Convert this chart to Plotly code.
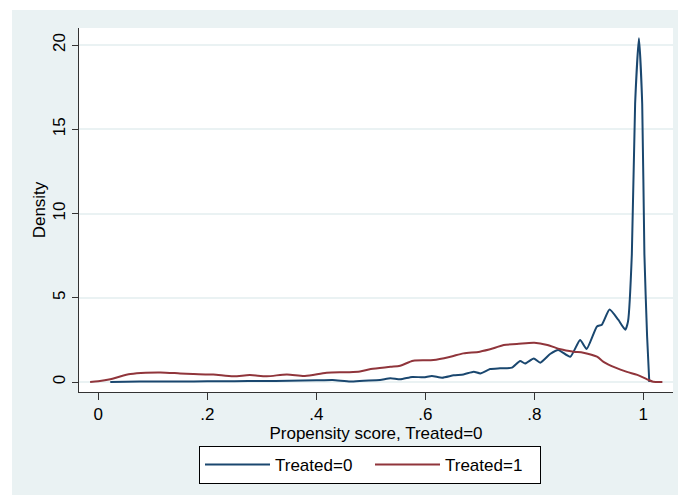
import plotly.graph_objects as go

# Treated=0 density
x0 = [0.022, 0.05, 0.1, 0.15, 0.2, 0.25, 0.3, 0.35, 0.4, 0.43, 0.462, 0.487, 0.517, 0.536, 0.554,
      0.576, 0.597, 0.612, 0.631, 0.652, 0.67, 0.689, 0.701, 0.719, 0.737, 0.759, 0.774, 0.783,
      0.799, 0.811, 0.829, 0.844, 0.866, 0.884, 0.896, 0.915, 0.924, 0.938, 0.954, 0.967, 0.972,
      0.979, 0.985, 0.992, 0.998, 1.002, 1.007, 1.011]
y0 = [0.0, 0.02, 0.03, 0.03, 0.04, 0.05, 0.06, 0.07, 0.1, 0.12, 0.03, 0.08, 0.12, 0.22, 0.16,
      0.3, 0.28, 0.36, 0.26, 0.4, 0.45, 0.61, 0.51, 0.77, 0.81, 0.85, 1.25, 1.1,
      1.4, 1.15, 1.66, 1.9, 1.5, 2.5, 1.96, 3.3, 3.4, 4.3, 3.7, 3.1, 3.6,
      7.6, 16.5, 20.4, 16.5, 7.6, 2.7, 0.0]

# Treated=1 density
x1 = [-0.015, 0.0, 0.022, 0.04, 0.059, 0.087, 0.114, 0.15, 0.174, 0.2, 0.211, 0.248, 0.278, 0.309,
      0.346, 0.379, 0.419, 0.455, 0.48, 0.5, 0.536, 0.554, 0.578, 0.615, 0.646, 0.67, 0.7, 0.725,
      0.744, 0.768, 0.8, 0.824, 0.848, 0.872, 0.89, 0.915, 0.927, 0.949, 0.97, 0.989, 1.007, 1.018, 1.035]
y1 = [0.0, 0.04, 0.16, 0.33, 0.47, 0.55, 0.57, 0.51, 0.47, 0.44, 0.45, 0.34, 0.41, 0.34,
      0.45, 0.36, 0.55, 0.58, 0.62, 0.77, 0.9, 0.97, 1.26, 1.3, 1.5, 1.7, 1.8, 2.0,
      2.2, 2.25, 2.33, 2.2, 1.94, 1.8, 1.74, 1.5, 1.2, 0.85, 0.6, 0.42, 0.16, 0.02, 0.0]

x_ticks = [0, 0.2, 0.4, 0.6, 0.8, 1.0]
x_ticklabels = ["0", ".2", ".4", ".6", ".8", "1"]
y_ticks = [0, 5, 10, 15, 20]

FONT = "Liberation Sans, Arial, sans-serif"
BG = "#EAF2F3"

fig = go.Figure()
fig.add_trace(go.Scatter(x=x0, y=y0, mode="lines", name="Treated=0",
                         line=dict(color="#1A476F", width=2, shape="spline", smoothing=0.5)))
fig.add_trace(go.Scatter(x=x1, y=y1, mode="lines", name="Treated=1",
                         line=dict(color="#90353B", width=2, shape="spline", smoothing=0.8)))

L, R, T, B = 79, 5, 28, 103
W, H = 678, 495
pw, ph = W - L - R, H - T - B

def px_x(p):
    return (p - L) / pw

def px_y(p):
    return (H - B - p) / ph

shapes = [
    dict(type="rect", xref="paper", yref="paper", x0=px_x(-5), x1=px_x(12), y0=px_y(H + 5), y1=px_y(-5),
         fillcolor="white", line=dict(width=0), layer="below"),
    dict(type="rect", xref="paper", yref="paper", x0=px_x(-5), x1=px_x(W + 5), y0=px_y(10), y1=px_y(-5),
         fillcolor="white", line=dict(width=0), layer="below"),
]

fig.update_layout(
    width=W, height=H,
    margin=dict(l=L, r=R, t=T, b=B, pad=0),
    paper_bgcolor=BG, plot_bgcolor="white",
    font=dict(family=FONT, size=17, color="black"),
    shapes=shapes,
    xaxis=dict(range=[-0.0354, 1.0545], tickvals=x_ticks, ticktext=x_ticklabels,
               showgrid=False, zeroline=False, showline=True, linecolor="#333333", linewidth=1,
               ticks="outside", ticklen=7, tickcolor="#333333", tickfont=dict(size=17),
               title=dict(text="Propensity score, Treated=0", font=dict(size=17), standoff=2)),
    yaxis=dict(range=[-0.593, 21.01], tickvals=y_ticks, tickangle=-90,
               showgrid=True, gridcolor=BG, gridwidth=1.5, zeroline=False,
               showline=True, linecolor="#333333", linewidth=1,
               ticks="outside", ticklen=6, tickcolor="#333333", tickfont=dict(size=17),
               title=dict(text="Density", font=dict(size=17), standoff=0)),
    legend=dict(orientation="h", x=px_x(370), xanchor="center", y=px_y(446), yanchor="top",
                bgcolor="white", bordercolor="black", borderwidth=1,
                itemwidth=65, entrywidth=90, font=dict(size=17)),
    showlegend=True,
)

fig.write_html("out.html", config={"displayModeBar": False},
               post_script="document.body.style.margin='0';document.body.style.overflow='hidden';")
